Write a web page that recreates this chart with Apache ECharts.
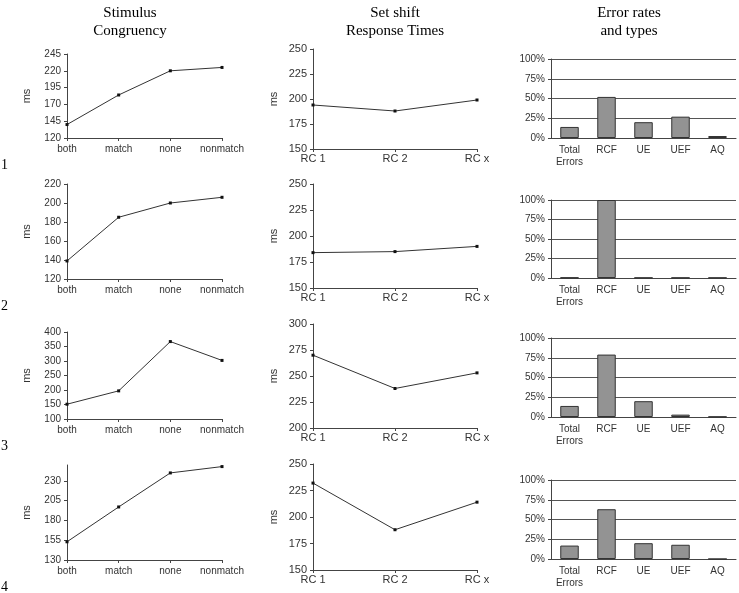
<!DOCTYPE html>
<html>
<head>
<meta charset="utf-8">
<script src="https://cdn.jsdelivr.net/npm/echarts@6/dist/echarts.min.js"></script>
<style>
  html, body { margin: 0; padding: 0; background: #fff; }
  #main { width: 739px; height: 593px; }
</style>
</head>
<body>
<div id="main"></div>
<script>
// categories
var congruencyCats = ['both', 'match', 'none', 'nonmatch'];
var setShiftCats = ['RC 1', 'RC 2', 'RC x'];
var errorCats = ['Total\nErrors', 'RCF', 'UE', 'UEF', 'AQ'];

// values per row (1..4)
var congruencyMs = [
  [140, 184, 220, 225],
  [139, 185, 200, 206],
  [151, 197, 367, 302],
  [153, 197, 240, 248]
];
var setShiftMs = [
  [194, 188, 199],
  [184, 185, 190],
  [270, 238, 253],
  [232, 188, 214]
];
var errorPct = [
  [14, 52, 20, 27, 2.5],
  [0.6, 100, 0.4, 0.4, 0.4],
  [14, 79, 20, 3, 0.4],
  [17, 63, 20, 18, 0]
];

// y-axis ranges [min, max, interval]
var congruencyRange = [[120, 245, 25], [120, 220, 20], [100, 400, 50], [130, 250, 25]];
var setShiftRange = [[150, 250, 25], [150, 250, 25], [200, 300, 25], [150, 250, 25]];

var headers = ['Stimulus\nCongruency', 'Set shift\nResponse Times', 'Error rates\nand types'];
var rowLabels = ['1', '2', '3', '4'];

var myChart = echarts.init(document.getElementById('main'));

var sans = 'Liberation Sans';
var serif = 'Liberation Serif';
var txt = '#333';
var axisCol = '#444';

// plot boxes in px: [left, top, width, height]
var boxes = [
  [[67, 54, 155, 84], [313, 49, 164, 100], [551, 59, 185, 79]],
  [[67, 184, 155, 95], [313, 184, 164, 104], [551, 200, 185, 78]],
  [[67, 332, 155, 87], [313, 324, 164, 104], [551, 338, 185, 79]],
  [[67, 465, 155, 95], [313, 464, 164, 106], [551, 480, 185, 79]]
];

var grids = [], xAxes = [], yAxes = [], series = [];

function lineAxis(idx, range, fs, gap) {
  return {
    gridIndex: idx, type: 'value', min: range[0], max: range[1], interval: range[2],
    name: 'ms', nameLocation: 'middle', nameGap: gap, nameRotate: 90,
    nameTextStyle: { fontFamily: sans, fontSize: 11, color: txt },
    axisLine: { show: true, lineStyle: { color: axisCol, width: 1 } },
    axisTick: { show: true, length: 3, lineStyle: { color: axisCol } },
    axisLabel: { fontFamily: sans, fontSize: fs, color: txt, margin: 6, showMaxLabel: (range[1] - range[0]) % range[2] === 0 },
    splitLine: { show: false }
  };
}

for (var r = 0; r < 4; r++) {
  for (var c = 0; c < 3; c++) {
    var b = boxes[r][c];
    grids.push({ left: b[0], top: b[1], width: b[2], height: b[3], containLabel: false, outerBoundsMode: 'none' });
  }
  var gi = r * 3;

  // stimulus congruency
  xAxes.push({
    gridIndex: gi, type: 'category', data: congruencyCats, boundaryGap: false,
    axisLine: { lineStyle: { color: axisCol } },
    axisTick: { length: 3, interval: 0, lineStyle: { color: axisCol } },
    axisLabel: { fontFamily: sans, fontSize: 10, color: txt, margin: 6, interval: 0 }
  });
  yAxes.push(lineAxis(gi, congruencyRange[r], 10, 35));
  series.push({
    type: 'line', xAxisIndex: gi, yAxisIndex: gi, data: congruencyMs[r],
    symbol: 'rect', symbolSize: 3, showSymbol: true,
    lineStyle: { color: '#333', width: 1 }, itemStyle: { color: '#111' }, silent: true
  });

  // set shift
  xAxes.push({
    gridIndex: gi + 1, type: 'category', data: setShiftCats, boundaryGap: false,
    axisLine: { lineStyle: { color: axisCol } },
    axisTick: { length: 3, interval: 0, lineStyle: { color: axisCol } },
    axisLabel: { fontFamily: sans, fontSize: 11, color: txt, margin: 4, interval: 0 }
  });
  yAxes.push(lineAxis(gi + 1, setShiftRange[r], 11, 34));
  series.push({
    type: 'line', xAxisIndex: gi + 1, yAxisIndex: gi + 1, data: setShiftMs[r],
    symbol: 'rect', symbolSize: 3, showSymbol: true,
    lineStyle: { color: '#333', width: 1 }, itemStyle: { color: '#111' }, silent: true
  });

  // error rates
  xAxes.push({
    gridIndex: gi + 2, type: 'category', data: errorCats, boundaryGap: true,
    axisLine: { lineStyle: { color: axisCol } },
    axisTick: { length: 3, interval: 0, lineStyle: { color: axisCol } },
    axisLabel: { fontFamily: sans, fontSize: 10, color: txt, margin: 6, lineHeight: 12, interval: 0 }
  });
  yAxes.push({
    gridIndex: gi + 2, type: 'value', min: 0, max: 100, interval: 25,
    axisLine: { show: true, lineStyle: { color: axisCol } },
    axisTick: { show: true, length: 3, lineStyle: { color: axisCol } },
    axisLabel: { fontFamily: sans, fontSize: 10, color: txt, margin: 6, formatter: '{value}%' },
    splitLine: { show: true, lineStyle: { color: '#555', width: 1 } }
  });
  series.push({
    type: 'bar', xAxisIndex: gi + 2, yAxisIndex: gi + 2, data: errorPct[r],
    barWidth: '50%',
    itemStyle: { color: '#939393', borderColor: '#333', borderWidth: 1 }, silent: true
  });
}

var graphics = [];
var headerX = [130, 395, 629];
headers.forEach(function (h, i) {
  graphics.push({
    type: 'text', x: headerX[i], y: 4,
    style: { text: h, font: '15px "' + serif + '"', fill: '#000', textAlign: 'center', textVerticalAlign: 'top', lineHeight: 18 }
  });
});
var rowY = [165, 306, 446, 587];
rowLabels.forEach(function (t, i) {
  graphics.push({
    type: 'text', x: 1, y: rowY[i],
    style: { text: t, font: '14px "' + serif + '"', fill: '#000', textAlign: 'left', textVerticalAlign: 'middle' }
  });
});

var option = {
  animation: false,
  grid: grids,
  xAxis: xAxes,
  yAxis: yAxes,
  series: series,
  graphic: graphics
};

myChart.setOption(option);
</script>
</body>
</html>
